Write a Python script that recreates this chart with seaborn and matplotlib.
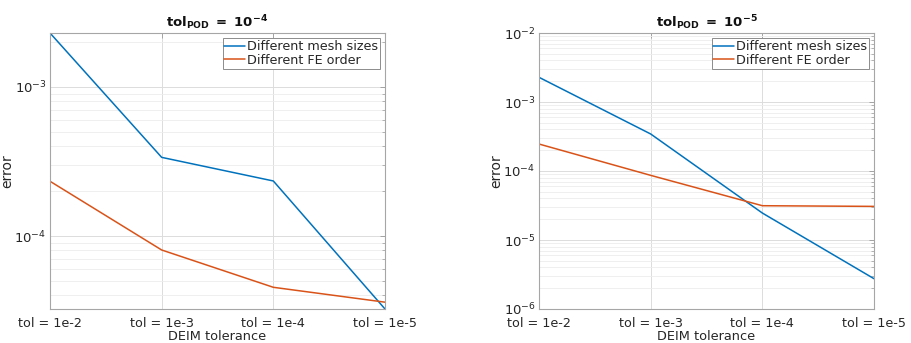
import matplotlib
matplotlib.use("Agg")
import matplotlib.pyplot as plt
import seaborn as sns
import pandas as pd
import numpy as np
from matplotlib.ticker import LogLocator, NullFormatter

sns.set_style("white")
plt.rcParams['font.family'] = ['DejaVu Sans']
plt.rcParams['mathtext.fontset'] = 'dejavusans'

categories = ['tol = 1e-2', 'tol = 1e-3', 'tol = 1e-4', 'tol = 1e-5']
series_names = ['Different mesh sizes', 'Different FE order']

# tol_POD = 1e-4
left_mesh = [2.30e-3, 3.37e-4, 2.34e-4, 3.24e-5]
left_fe = [2.33e-4, 8.06e-5, 4.53e-5, 3.60e-5]
# tol_POD = 1e-5
right_mesh = [2.28e-3, 3.44e-4, 2.46e-5, 2.75e-6]
right_fe = [2.46e-4, 8.65e-5, 3.14e-5, 3.07e-5]

titles = [r'$\mathbf{tol_{POD}\ =\ 10^{-4}}$',
          r'$\mathbf{tol_{POD}\ =\ 10^{-5}}$']

colors = ['#0072BD', '#D95319']

fig = plt.figure(figsize=(9.12, 3.43), dpi=100)
ax1 = fig.add_axes([50/912, 34/343, 335/912, 276/343])
ax2 = fig.add_axes([539/912, 34/343, 335/912, 276/343])

panels = [(ax1, left_mesh, left_fe, titles[0], None),
          (ax2, right_mesh, right_fe, titles[1], (1e-6, 1e-2))]

for ax, mesh, fe, title, ylim in panels:
    df = pd.DataFrame({
        'x': list(range(len(categories))) * 2,
        'error': mesh + fe,
        'series': [series_names[0]] * len(mesh) + [series_names[1]] * len(fe),
    })
    sns.lineplot(data=df, x='x', y='error', hue='series', palette=colors,
                 linewidth=1.1, ax=ax, legend=True)
    ax.set_yscale('log')
    ax.set_xlim(0, len(categories) - 1)
    if ylim is None:
        vals = mesh + fe
        ax.set_ylim(min(vals), max(vals))
    else:
        ax.set_ylim(*ylim)
    ax.set_xticks(range(len(categories)))
    ax.set_xticklabels(categories)
    ax.yaxis.set_major_locator(LogLocator(base=10, numticks=10))
    ax.yaxis.set_minor_locator(LogLocator(base=10, subs=np.arange(2, 10), numticks=20))
    ax.yaxis.set_minor_formatter(NullFormatter())
    ax.grid(True, which='major', color='#dcdcdc', linewidth=0.7)
    ax.grid(True, which='minor', axis='y', color='#ececec', linewidth=0.6)
    ax.set_axisbelow(True)
    ax.tick_params(axis='both', which='both', direction='in', top=True, right=True,
                   colors='#9a9a9a', labelcolor='#262626')
    ax.tick_params(axis='x', labelsize=9.2, pad=6)
    ax.tick_params(axis='y', labelsize=9.5, pad=2.5)
    ax.tick_params(axis='both', which='major', length=3.5, width=0.6)
    ax.tick_params(axis='both', which='minor', length=2, width=0.5)
    for s in ax.spines.values():
        s.set_color('#a6a6a6')
        s.set_linewidth(0.8)
    ax.set_xlabel('DEIM tolerance', fontsize=9.3, color='#262626', labelpad=0)
    ax.set_ylabel('error', fontsize=10, color='#262626')
    ax.yaxis.set_label_coords(-0.106, 0.5)
    ax.set_title(title, fontsize=9.5, color='#111111', pad=4)
    leg = ax.legend(loc='upper right', fontsize=9.2, frameon=True, fancybox=False,
                    framealpha=1, edgecolor='#8c8c8c', handlelength=1.6,
                    handletextpad=0.15, borderpad=0.15, labelspacing=0.05,
                    borderaxespad=0.4)
    leg.get_frame().set_linewidth(0.7)

fig.savefig('out.png', dpi=100)
